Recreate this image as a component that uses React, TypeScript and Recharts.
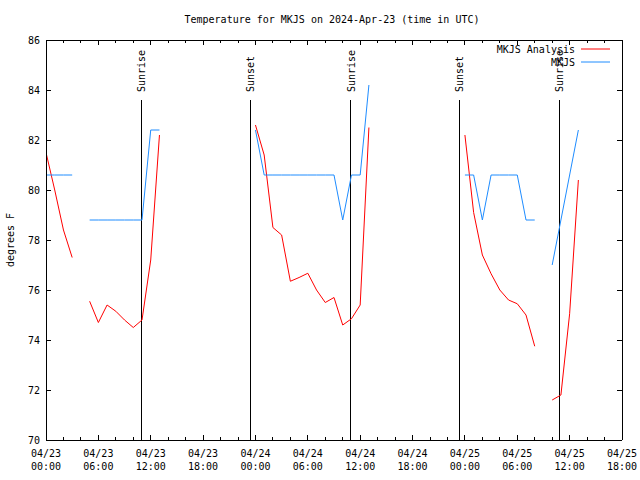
import React from 'react';
import { LineChart, Line, XAxis, YAxis, ReferenceLine } from 'recharts';

const FONT = '"DejaVu Sans Mono", "Liberation Mono", monospace';

// hours since 2024-04-23 00:00 UTC (null rows split the segments)
const hours = [
  0, 1, 2, 3, 4,
  5, 6, 7, 8, 9, 10, 11, 12, 13,
  18,
  24, 25, 26, 27, 28, 29, 30, 31, 32, 33, 34, 35, 36, 37,
  42,
  48, 49, 50, 51, 52, 53, 54, 55, 56,
  57,
  58, 59, 60, 61,
];

const analysis = [
  81.5, 80.0, 78.4, 77.3, null,
  75.55, 74.7, 75.4, 75.15, 74.8, 74.5, 74.8, 77.2, 82.2,
  null,
  82.6, 81.4, 78.5, 78.2, 76.35, 76.5, 76.67, 76.0, 75.5, 75.7, 74.6, 74.85, 75.4, 82.5,
  null,
  82.2, 79.1, 77.4, 76.65, 76.0, 75.6, 75.45, 75.0, 73.75,
  null,
  71.6, 71.8, 75.05, 80.4,
];

const mkjs = [
  80.6, 80.6, 80.6, 80.6, null,
  78.8, 78.8, 78.8, 78.8, 78.8, 78.8, 78.8, 82.4, 82.4,
  null,
  82.4, 80.6, 80.6, 80.6, 80.6, 80.6, 80.6, 80.6, 80.6, 80.6, 78.8, 80.6, 80.6, 84.2,
  null,
  80.6, 80.6, 78.8, 80.6, 80.6, 80.6, 80.6, 78.8, 78.8,
  null,
  77.0, 78.8, 80.6, 82.4,
];

// sunrise / sunset times (hours) and the top of their markers (deg F)
const sunHours = [10.93, 23.38, 34.9, 47.33, 58.8];
const sunNames = ['Sunrise', 'Sunset', 'Sunrise', 'Sunset', 'Sunrise'];
const sunTop = 83.6;

const yTicks = [70, 72, 74, 76, 78, 80, 82, 84, 86];
const xTicks: number[] = [];
for (let h = 0; h <= 66; h += 2) xTicks.push(h);

const data = hours.map((h, i) => ({ h, analysis: analysis[i], mkjs: mkjs[i] }));

const dayLabel = (h: number) => `04/${23 + Math.floor(h / 24)}`;
const timeLabel = (h: number) => `${String(h % 24).padStart(2, '0')}:00`;

const BottomTick = ({ x, y, payload }: any) => {
  const h = payload.value;
  const major = h % 6 === 0;
  return (
    <g>
      <line x1={x} x2={x} y1={y} y2={y - (major ? 5 : 3)} stroke="#000" />
      {major && (
        <text x={x} textAnchor="middle" fontFamily={FONT} fontSize={10} fill="#000">
          <tspan x={x} y={y + 17}>{dayLabel(h)}</tspan>
          <tspan x={x} y={y + 30}>{timeLabel(h)}</tspan>
        </text>
      )}
    </g>
  );
};

const TopTick = ({ x, y, payload }: any) => {
  const major = payload.value % 6 === 0;
  return <line x1={x} x2={x} y1={y} y2={y + (major ? 5 : 3)} stroke="#000" />;
};

const LeftTick = ({ x, y, payload }: any) => (
  <g>
    <line x1={x} x2={x + 5} y1={y} y2={y} stroke="#000" />
    <text x={x - 6} y={y + 4} textAnchor="end" fontFamily={FONT} fontSize={10} fill="#000">
      {payload.value}
    </text>
  </g>
);

const RightTick = ({ x, y }: any) => <line x1={x} x2={x - 5} y1={y} y2={y} stroke="#000" />;

const SunLabel = ({ viewBox, name }: any) => {
  if (!viewBox) return null;
  const x = viewBox.x + 4;
  const y = viewBox.y - 8;
  return (
    <text transform={`translate(${x},${y}) rotate(-90)`} fontFamily={FONT} fontSize={10} fill="#000">
      {name}
    </text>
  );
};

export default function App() {
  return (
    <div style={{ position: 'absolute', left: 0, top: 0, width: 640, height: 480, background: '#fff' }}>
      <style>{'.recharts-surface line { shape-rendering: crispEdges; }'}</style>
      <LineChart width={640} height={480} data={data} margin={{ top: 0, right: 0, bottom: 0, left: 0 }}>
        <XAxis
          dataKey="h"
          type="number"
          domain={[0, 66]}
          ticks={xTicks}
          interval={0}
          height={40}
          tickSize={0}
          tickMargin={0}
          tickLine={false}
          tick={<BottomTick />}
          axisLine={{ stroke: '#000' }}
          allowDataOverflow
        />
        <XAxis
          xAxisId="top"
          orientation="top"
          dataKey="h"
          type="number"
          domain={[0, 66]}
          ticks={xTicks}
          interval={0}
          height={40}
          tickSize={0}
          tickMargin={0}
          tickLine={false}
          tick={<TopTick />}
          axisLine={{ stroke: '#000' }}
          allowDataOverflow
        />
        <YAxis
          type="number"
          domain={[70, 86]}
          ticks={yTicks}
          interval={0}
          width={46}
          tickSize={0}
          tickMargin={0}
          tickLine={false}
          tick={<LeftTick />}
          axisLine={{ stroke: '#000' }}
          allowDataOverflow
        />
        <YAxis
          yAxisId="right"
          orientation="right"
          type="number"
          domain={[70, 86]}
          ticks={yTicks}
          interval={0}
          width={18}
          tickSize={0}
          tickMargin={0}
          tickLine={false}
          tick={<RightTick />}
          axisLine={{ stroke: '#000' }}
          allowDataOverflow
        />
        {sunHours.map((h, i) => (
          <ReferenceLine
            key={i}
            segment={[{ x: h, y: 70 }, { x: h, y: sunTop }]}
            stroke="#000"
            strokeWidth={1}
            label={<SunLabel name={sunNames[i]} />}
          />
        ))}
        <Line
          type="linear"
          dataKey="analysis"
          name="MKJS Analysis"
          stroke="#ff0000"
          strokeWidth={1}
          dot={false}
          connectNulls={false}
          isAnimationActive={false}
        />
        <Line
          type="linear"
          dataKey="mkjs"
          name="MKJS"
          stroke="#1e8cff"
          strokeWidth={1}
          dot={false}
          connectNulls={false}
          isAnimationActive={false}
        />
      </LineChart>
      <svg
        width={640}
        height={480}
        style={{ position: 'absolute', left: 0, top: 0, pointerEvents: 'none' }}
        fontFamily={FONT}
        fontSize={10}
      >
        <text x={332} y={23} textAnchor="middle" fill="#000">
          Temperature for MKJS on 2024-Apr-23 (time in UTC)
        </text>
        <text transform="translate(14,240) rotate(-90)" textAnchor="middle" fill="#000">
          degrees F
        </text>
        <text x={575} y={53} textAnchor="end" fill="#000">MKJS Analysis</text>
        <line x1={581} x2={610} y1={49} y2={49} stroke="#ff0000" />
        <text x={575} y={66} textAnchor="end" fill="#000">MKJS</text>
        <line x1={581} x2={610} y1={62} y2={62} stroke="#1e8cff" />
      </svg>
    </div>
  );
}
